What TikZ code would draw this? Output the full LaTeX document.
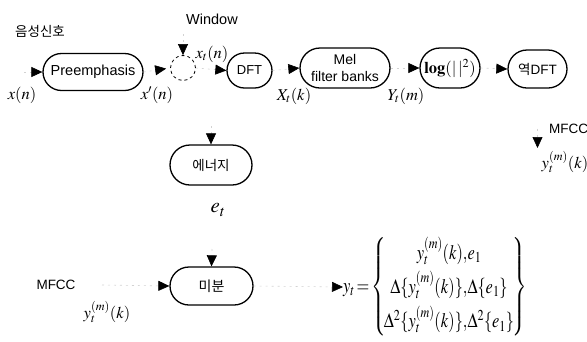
\documentclass[tikz,border=0pt]{standalone}
\usepackage{mathptmx}
\usepackage[no-math]{fontspec}
\setmainfont{Liberation Sans}
\newfontfamily\kr{Noto Sans CJK KR}
\usetikzlibrary{arrows.meta,shapes.misc}
\tikzset{
  box/.style={draw, line width=1.3pt, rounded rectangle, inner xsep=0pt, inner ysep=0pt, font=\fontsize{13}{16}\selectfont},
  conn/.style={draw=gray!35, line width=0.6pt, dash pattern=on 2pt off 4pt,
     -{Triangle[length=11pt,width=10pt,color=black]}},
  lbl/.style={inner sep=0pt, font=\fontsize{16.5}{18}\selectfont},
  txt/.style={inner sep=0pt, font=\fontsize{13.5}{15}\selectfont}
}
\begin{document}
\begin{tikzpicture}[x=1pt,y=-1pt]
\useasboundingbox (0,0) rectangle (587,341);
% top row
\node[txt] (sig) at (40,31) {\kr 음성신호};
\coordinate (in) at (24,72);
\node[box, minimum width=100pt, minimum height=37pt, font=\fontsize{14.5}{16}\selectfont] (pre) at (93,72) {Preemphasis};
\node[draw, circle, dashed, line width=0.8pt, minimum size=25pt, inner sep=0pt] (win) at (183,68) {};
\node[txt, font=\fontsize{14.5}{16}\selectfont] (wintxt) at (212,19) {Window};
\coordinate (wtop) at (183,34);
\node[box, minimum width=45pt, minimum height=35pt, font=\fontsize{13}{15}\selectfont] (dft) at (249.5,70.5) {DFT};
\node[box, minimum width=90pt, minimum height=40pt, align=center, font=\fontsize{14}{15}\selectfont] (mel) at (345,68) {Mel\\[2pt]filter banks};
\node[box, minimum width=60pt, minimum height=40pt, font=\fontsize{16.5}{20}\selectfont] (log) at (450,68) {$\mathbf{log}(|\,|^{2})$};
\node[box, minimum width=59pt, minimum height=38pt, font=\fontsize{13.5}{15}\selectfont] (idft) at (537.5,69) {{\kr 역}DFT};
\coordinate (mfccR) at (537.5,148);
\node[txt, anchor=west] (mfcctxtR) at (549,129) {MFCC};
\node[lbl] (ykR) at (565,162) {$y_t^{(m)}(k)$};
% labels
\node[lbl] (xn) at (22,95) {$x(n)$};
\node[lbl] (xpn) at (157,95) {$x'(n)$};
\node[lbl] (xtn) at (212,54) {$x_t(n)$};
\node[lbl] (Xtk) at (294,96) {$X_t(k)$};
\node[lbl] (Ytm) at (406,96) {$Y_t(m)$};
% energy
\coordinate (etop) at (211,126);
\node[box, minimum width=82pt, minimum height=40pt, font=\fontsize{13.5}{15}\selectfont] (en) at (211,165) {\kr 에너지};
\node[lbl, font=\fontsize{21}{22}\selectfont] (et) at (218,210) {$e_t$};
% differential
\coordinate (dtop) at (212,249);
\node[box, minimum width=83pt, minimum height=38pt, font=\fontsize{14}{15}\selectfont] (diff) at (211.5,286) {\kr 미분};
\node[txt] (mfccL) at (56,285) {MFCC};
\node[lbl] (ykL) at (107,312) {$y_t^{(m)}(k)$};
\coordinate (dleft) at (102,285);
\node[anchor=west, inner sep=0pt, font=\fontsize{20.5}{22}\selectfont] (yt) at (343,287)
  {\scalebox{0.8}[1]{\renewcommand\arraystretch{1.55}$y_t\!=\!\left\{\!\begin{array}{@{}c@{}} y_t^{(m)}(k),\!e_1\\ \Delta\{y_t^{(m)}(k)\},\!\Delta\{e_1\}\\ \Delta^2\{y_t^{(m)}(k)\},\!\Delta^2\{e_1\}\end{array}\!\right\}$}};
% connectors
\draw[conn] (in) -- (pre.west);
\draw[conn, shorten >=4pt] (pre.east) -- (win.west);
\draw[conn] (wtop) -- (win.north);
\draw[conn] (win.east) -- (dft.west);
\draw[conn] (dft.east) -- (mel.west);
\draw[conn] (mel.east) -- (log.west);
\draw[conn] (log.east) -- (idft.west);
\draw[conn, shorten <=40pt] (idft.south) -- (mfccR);
\draw[conn] (etop) -- (en.north);
\draw[conn] (dtop) -- (diff.north);
\draw[conn] (dleft) -- (diff.west);
\draw[conn] (diff.east) -- (yt.west);
\end{tikzpicture}
\end{document}
